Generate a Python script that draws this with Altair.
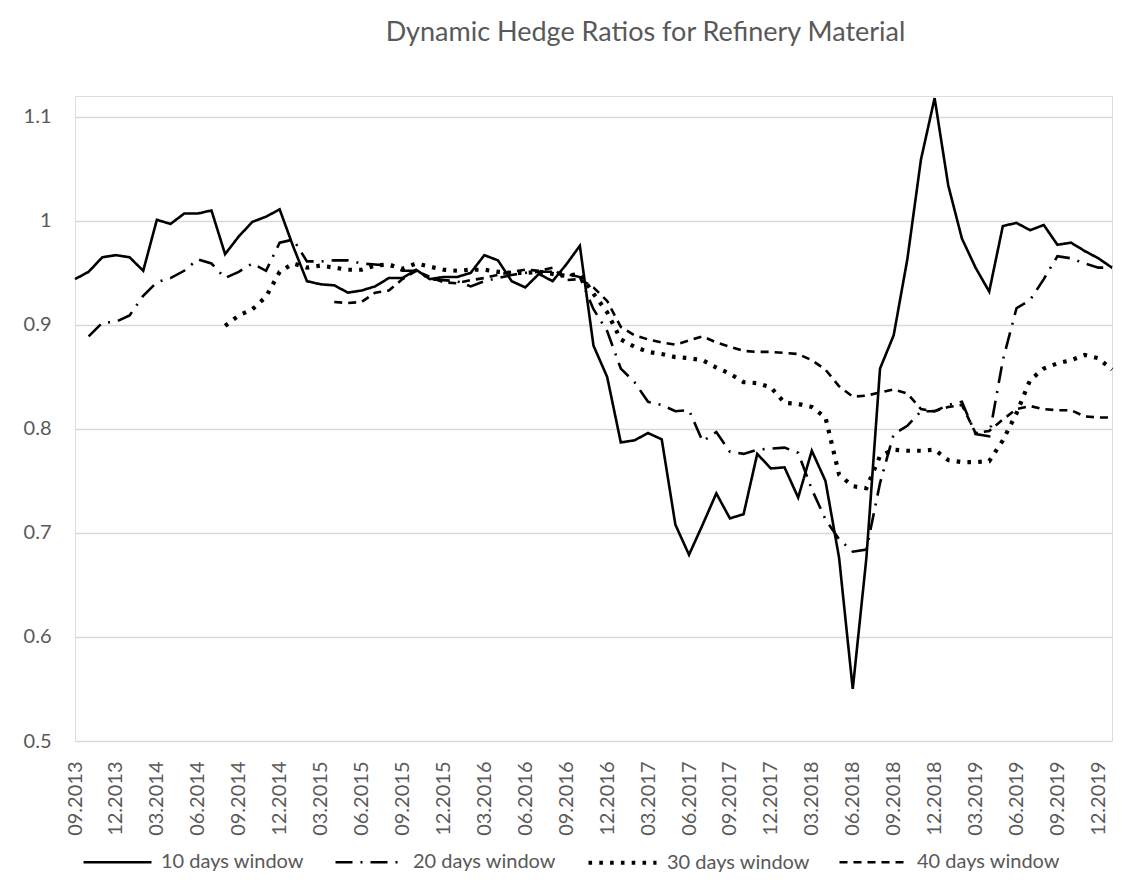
import altair as alt
import pandas as pd

# Monthly categories 09.2013 .. 01.2020
months = []
_y, _m = 2013, 9
for _ in range(77):
    months.append(f"{_m:02d}.{_y}")
    _m += 1
    if _m > 12:
        _m = 1
        _y += 1

tick_labels = months[::3][:26]  # 09.2013 ... 12.2019

series_names = ["10 days window", "20 days window", "30 days window", "40 days window"]

w10 = [0.944, 0.951, 0.965, 0.967, 0.965, 0.952, 1.001, 0.997, 1.007, 1.007,
       1.010, 0.968, 0.985, 0.999, 1.004, 1.011, 0.975, 0.942, 0.939, 0.938,
       0.931, 0.933, 0.937, 0.945, 0.945, 0.953, 0.944, 0.946, 0.946, 0.950,
       0.967, 0.962, 0.942, 0.936, 0.949, 0.942, 0.958, 0.976, 0.880, 0.850,
       0.787, 0.789, 0.796, 0.790, 0.708, 0.679, 0.708, 0.738, 0.714, 0.718,
       0.776, 0.762, 0.763, 0.734, 0.779, 0.750, 0.676, 0.550, 0.676, 0.858,
       0.890, 0.963, 1.059, 1.118, 1.034, 0.983, 0.955, 0.932, 0.995, 0.998,
       0.991, 0.996, 0.977, 0.979, 0.971, 0.964, 0.955]

w20 = [None, 0.889, 0.902, 0.903, 0.909, 0.928, 0.941, 0.945, 0.952, 0.963,
       0.959, 0.945, 0.951, 0.959, 0.952, 0.979, 0.982, 0.961, 0.961, 0.962,
       0.962, 0.959, 0.958, 0.957, 0.952, 0.952, 0.944, 0.943, 0.942, 0.937,
       0.942, 0.945, 0.948, 0.950, 0.951, 0.951, 0.949, 0.946, 0.915, 0.894,
       0.858, 0.845, 0.826, 0.823, 0.817, 0.818, 0.788, 0.797, 0.778, 0.776,
       0.780, 0.781, 0.782, 0.777, 0.742, 0.713, 0.694, 0.682, 0.684, 0.748,
       0.795, 0.803, 0.817, 0.817, 0.823, 0.826, 0.795, 0.793, 0.866, 0.916,
       0.924, 0.944, 0.966, 0.964, 0.959, 0.955, 0.955]

w30 = [None] * 11 + [
       0.899, 0.909, 0.915, 0.927, 0.951, 0.959, 0.955, 0.957, 0.955,
       0.953, 0.953, 0.957, 0.958, 0.954, 0.959, 0.956, 0.953, 0.952, 0.953,
       0.953, 0.951, 0.950, 0.950, 0.951, 0.949, 0.947, 0.949, 0.930, 0.912,
       0.886, 0.879, 0.874, 0.872, 0.869, 0.868, 0.866, 0.859, 0.853, 0.845,
       0.844, 0.840, 0.825, 0.824, 0.821, 0.811, 0.756, 0.745, 0.743, 0.774,
       0.780, 0.779, 0.779, 0.780, 0.770, 0.768, 0.768, 0.769, 0.789, 0.815,
       0.847, 0.858, 0.863, 0.866, 0.871, 0.868, 0.857]

w40 = [None] * 19 + [
       0.922,
       0.921, 0.922, 0.931, 0.933, 0.944, 0.952, 0.946, 0.941, 0.940, 0.943,
       0.945, 0.948, 0.951, 0.953, 0.952, 0.955, 0.943, 0.944, 0.936, 0.923,
       0.898, 0.890, 0.886, 0.883, 0.881, 0.885, 0.889, 0.883, 0.879, 0.875,
       0.874, 0.874, 0.873, 0.872, 0.866, 0.857, 0.841, 0.831, 0.832, 0.835,
       0.838, 0.834, 0.819, 0.817, 0.821, 0.823, 0.796, 0.798, 0.809, 0.819,
       0.822, 0.819, 0.818, 0.818, 0.812, 0.811, 0.811]

rows = []
for name, vals in zip(series_names, [w10, w20, w30, w40]):
    for i, (m, v) in enumerate(zip(months, vals)):
        if v is not None:
            rows.append({"month": m, "series": name, "value": v, "idx": i})
df = pd.DataFrame(rows)

grey = "#595959"
font = "Lato"

legend_opts = dict(title=None, orient="none", legendX=7, legendY=730,
                   direction="horizontal", symbolType="stroke",
                   symbolSize=4624, symbolStrokeColor="black",
                   labelFontSize=20, labelColor=grey, labelFont=font,
                   labelOffset=8, columnPadding=22, gridAlign="all")

chart = alt.Chart(df).mark_line(color="black", clip=False).encode(
    x=alt.X("month:O", sort=months,
            scale=alt.Scale(type="point", padding=0),
            axis=alt.Axis(values=tick_labels, labelAngle=270, title=None,
                          ticks=False, domain=False, labelPadding=20,
                          labelFontSize=20, labelColor=grey, labelFont=font)),
    y=alt.Y("value:Q",
            scale=alt.Scale(domain=[0.5, 1.12], nice=False, zero=False),
            axis=alt.Axis(values=[0.5, 0.6, 0.7, 0.8, 0.9, 1.0, 1.1], format=".1~f",
                          title=None, ticks=False, domain=False, labelPadding=24,
                          labelFontSize=20, labelColor=grey, labelFont=font,
                          grid=True, gridColor="#d9d9d9", gridWidth=1.3)),
    strokeDash=alt.StrokeDash("series:N",
            scale=alt.Scale(type="ordinal", domain=series_names,
                            range=[[1, 0], [17, 8, 2, 8], [3.6, 7.2], [8, 6]]),
            legend=alt.Legend(**legend_opts)),
    strokeWidth=alt.StrokeWidth("series:N",
            scale=alt.Scale(type="ordinal", domain=series_names,
                            range=[2.6, 2.6, 4.2, 2.6]),
            legend=alt.Legend(**legend_opts)),
    order="idx:Q",
).properties(
    width=1037, height=645,
    title=alt.TitleParams("Dynamic Hedge Ratios for Refinery Material",
                          anchor="middle", frame="group", dx=52, offset=46,
                          fontSize=27, font=font, fontWeight="normal", color=grey),
    autosize=alt.AutoSizeParams(type="none"),
    padding={"left": 67, "top": 88, "right": 14, "bottom": 147},
).configure_view(stroke=None).configure(background="white")

chart.save("out.html", embed_options={"renderer": "svg", "actions": False})
